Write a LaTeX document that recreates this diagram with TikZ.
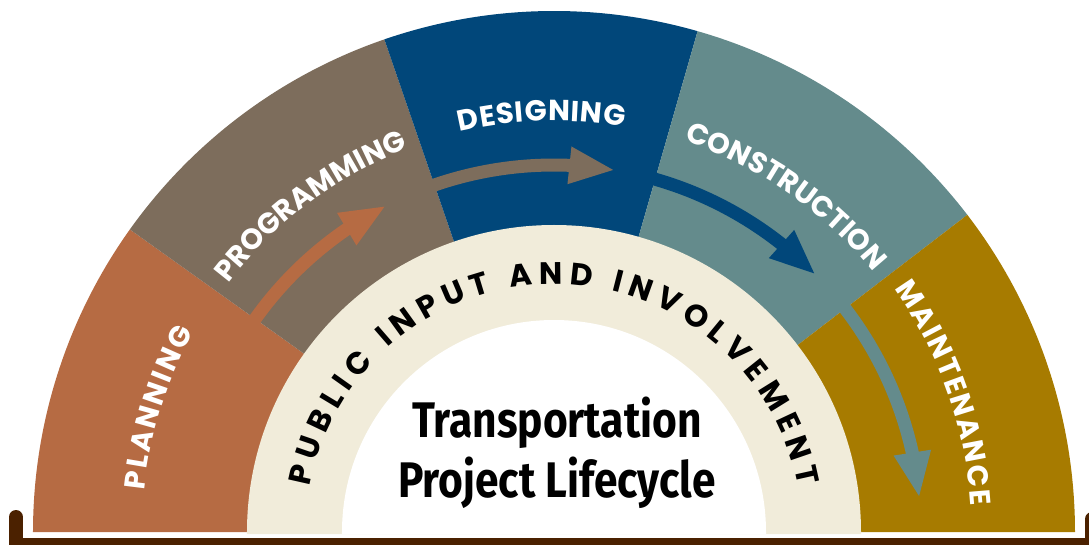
\documentclass[tikz,border=0pt]{standalone}
\usepackage{fontspec}
\usetikzlibrary{arrows.meta,bending,decorations.text}
\newfontfamily\titlefont[FakeStretch=0.85]{Fira Sans}
\newfontfamily\labelfont{Poppins}
\newfontfamily\ringfont{Poppins}
\definecolor{planning}{HTML}{B66B43}
\definecolor{programming}{HTML}{7D6D5C}
\definecolor{designing}{HTML}{01477A}
\definecolor{construction}{HTML}{648B8C}
\definecolor{maintenance}{HTML}{A77B00}
\definecolor{cream}{HTML}{F1ECDA}
\definecolor{bracket}{HTML}{4B2100}
\begin{document}
\begin{tikzpicture}[x=1pt,y=1pt]
    \tikzstyle{every node}=[inner sep=0pt]
    \tikzstyle{phase arrow}=[line width=13pt,-{Triangle[length=46pt,width=34pt,flex]}]
    \tikzstyle{phase label}=[decorate,decoration={text along path,text align=fit to path,text color=white}]
    \useasboundingbox (-554,-12) rectangle (535,532);
    % the five phases
    \foreach \a/\b/\c in {180/144.5/planning,144.5/109/programming,109/74/designing,74/37.5/construction,37.5/0/maintenance}
        \fill[\c] (0,0) -- (\a:521) arc[start angle=\a,end angle=\b,radius=521] -- cycle;
    \fill[cream] (-307,-2) -- (-307,0) arc[start angle=180,end angle=0,radius=307] -- (307,-2) -- cycle;
    \fill[white] (-212,-2) -- (-212,0) arc[start angle=180,end angle=0,radius=212] -- (212,-2) -- cycle;
    % arrows from one phase to the next
    \coordinate (p1) at (146:367);
    \coordinate (p2) at (111:367);
    \coordinate (p3) at (76:367);
    \coordinate (p4) at (40:367);
    \draw[phase arrow,planning] (p1) arc[start angle=146,end angle=117.2,radius=367];
    \draw[phase arrow,programming] (p2) arc[start angle=111,end angle=80.4,radius=367];
    \draw[phase arrow,designing] (p3) arc[start angle=76,end angle=44.5,radius=367];
    \draw[phase arrow,construction] (p4) arc[start angle=40,end angle=5.3,radius=367];
    % labels
    \path[phase label,decoration={text={|\labelfont\bfseries\fontsize{29}{34}\selectfont|PLANNING}}] (174.2:412) arc[start angle=174.2,end angle=151,radius=412];
    \path[phase label,decoration={text={|\labelfont\bfseries\fontsize{29}{34}\selectfont|PROGRAMMING}}] (142.65:410) arc[start angle=142.65,end angle=111.15,radius=410];
    \path[phase label,decoration={text={|\labelfont\bfseries\fontsize{29}{34}\selectfont|DESIGNING}}] (103.25:411) arc[start angle=103.25,end angle=80.15,radius=411];
    \path[phase label,decoration={text={|\labelfont\bfseries\fontsize{29}{34}\selectfont|CONSTRUCTION}}] (71.6:412) arc[start angle=71.6,end angle=39.6,radius=412];
    \path[phase label,decoration={text={|\labelfont\bfseries\fontsize{29}{34}\selectfont|MAINTENANCE}}] (35.6:418) arc[start angle=35.6,end angle=3.6,radius=418];
    \path[decorate,decoration={text along path,text align=fit to path,text={|\ringfont\bfseries\fontsize{31}{36}\selectfont|PUBLIC INPUT AND INVOLVEMENT}}] (169.5:248) arc[start angle=169.5,end angle=10.5,radius=248];
    \draw (3,95) node[anchor=base,font=\titlefont\bfseries\fontsize{50}{60}\selectfont] (title) {Transportation};
    \draw (3,35) node[anchor=base,font=\titlefont\bfseries\fontsize{50}{60}\selectfont] (subtitle) {Project Lifecycle};
    % bracket under the arch
    \draw[bracket,line width=14pt,line cap=round] (-538,15) -- (-538,-12.5) -- (538,-12.5) -- (538,13);
\end{tikzpicture}
\end{document}
